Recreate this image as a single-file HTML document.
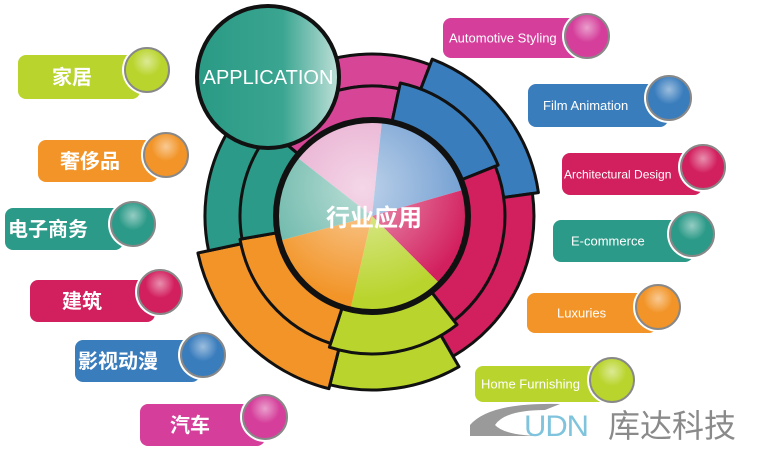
<!DOCTYPE html>
<html><head><meta charset="utf-8"><style>
html,body{margin:0;padding:0;background:#fff;width:772px;height:451px;overflow:hidden}
svg{display:block}
.cn{font-family:"Liberation Sans","Noto Sans CJK SC",sans-serif;font-weight:bold;fill:#fff}
.en{font-family:"Liberation Sans",sans-serif;fill:#fff}
</style></head><body>
<svg id="s" width="772" height="451" viewBox="0 0 772 451" xmlns="http://www.w3.org/2000/svg">
<defs>
<radialGradient id="gl" cx="50%" cy="30%" r="70%"><stop offset="0" stop-color="#fff" stop-opacity=".5"/><stop offset=".5" stop-color="#fff" stop-opacity="0"/></radialGradient>
<radialGradient id="ctr" cx="45%" cy="35%" r="60%"><stop offset="0" stop-color="#fff" stop-opacity=".55"/><stop offset="1" stop-color="#fff" stop-opacity="0"/></radialGradient>
<linearGradient id="app" x1="0" y1="0" x2="1" y2="0"><stop offset="0" stop-color="#2a9a85"/><stop offset=".6" stop-color="#3aa591"/><stop offset="1" stop-color="#bfe0d8"/></linearGradient>
</defs>
<g id="wheel"></g>
<circle cx="268" cy="77" r="71" fill="url(#app)" stroke="#111" stroke-width="4"/>
<text x="268" y="84" text-anchor="middle" class="en" font-size="20">APPLICATION</text>
<text x="374" y="226" text-anchor="middle" class="cn" font-size="24">行业应用</text>
<g id="labels"></g>
<path d="M470 425 Q490 402 560 404 L545 410 Q505 410 495 425 Q505 436 545 436 L470 436 Z" fill="#9a9a9a"/>
<text x="524" y="436" font-family="Liberation Sans,sans-serif" font-size="30" fill="#7fc4dc" letter-spacing="-1" textLength="64" lengthAdjust="spacingAndGlyphs">UDN</text>
<text x="608" y="437" font-family="Liberation Sans,Noto Sans CJK SC,sans-serif" font-size="32" fill="#8a8a8a">库达科技</text>
</svg>
<script>
var cx=372,cy=216,NS="http://www.w3.org/2000/svg";
function P(r,a){a=a*Math.PI/180;return (cx+r*Math.cos(a)).toFixed(1)+" "+(cy+r*Math.sin(a)).toFixed(1);}
function wedge(r0,r1,a0,a1,col){var large=(a1-a0)>180?1:0;var d;
 if(r0==0)d="M"+cx+" "+cy+" L"+P(r1,a0)+" A"+r1+" "+r1+" 0 "+large+" 1 "+P(r1,a1)+" Z";
 else d="M"+P(r0,a0)+" L"+P(r1,a0)+" A"+r1+" "+r1+" 0 "+large+" 1 "+P(r1,a1)+" L"+P(r0,a1)+" A"+r0+" "+r0+" 0 "+large+" 0 "+P(r0,a0)+" Z";
 var p=document.createElementNS(NS,"path");p.setAttribute("d",d);p.setAttribute("fill",col);p.setAttribute("stroke","#111");p.setAttribute("stroke-width",r0==0?0:3);p.setAttribute("stroke-linejoin","round");document.getElementById("wheel").appendChild(p);}
var PK="#d64596",BL="#3a7dbd",CR="#d21f5d",GR="#b9d42c",OR="#f29427",TL="#2c9a88";
wedge(130,162,-115,-69,PK);wedge(130,168,-69,-8,BL);wedge(130,162,-8,60,CR);wedge(130,174,60,104,GR);wedge(130,178,104,168,OR);wedge(130,167,168,245,TL);
wedge(96,130,-140,-78,PK);wedge(96,136,-78,-22,BL);wedge(96,133,-22,52,CR);wedge(96,138,52,108,GR);wedge(96,134,108,170,OR);wedge(96,132,170,220,TL);
wedge(0,96,-142,-84,"#e6a5cb");wedge(0,96,-84,-16,"#6d9bd0");wedge(0,96,-16,45,CR);wedge(0,96,45,103,GR);wedge(0,96,103,165,OR);wedge(0,96,165,218,"#66b5a6");
var w=document.getElementById("wheel");
var c=document.createElementNS(NS,"circle");c.setAttribute("cx",cx);c.setAttribute("cy",cy);c.setAttribute("r",94);c.setAttribute("fill","url(#ctr)");w.appendChild(c);
c=document.createElementNS(NS,"circle");c.setAttribute("cx",cx);c.setAttribute("cy",cy);c.setAttribute("r",96);c.setAttribute("fill","none");c.setAttribute("stroke","#111");c.setAttribute("stroke-width",6);w.appendChild(c);
var L=document.getElementById("labels");
function lab(x,y,w,h,col,bx,by,txt,cls,fs,tx){
 L.insertAdjacentHTML("beforeend",
 '<rect x="'+x+'" y="'+y+'" width="'+w+'" height="'+h+'" rx="8" fill="'+col+'"/>'+
 '<circle cx="'+bx+'" cy="'+by+'" r="25" fill="#fff"/>'+
 '<circle cx="'+bx+'" cy="'+by+'" r="22" fill="'+col+'" stroke="#888" stroke-width="2"/>'+
 '<circle cx="'+bx+'" cy="'+by+'" r="21" fill="url(#gl)"/>'+
 '<text x="'+tx+'" y="'+(y+h/2+fs*0.36)+'" class="'+cls+'" font-size="'+fs+'">'+txt+'</text>');}
lab(18,55,122,44,GR,147,70,"家居","cn",20,52);
lab(38,140,120,42,OR,166,155,"奢侈品","cn",20,60);
lab(5,208,118,42,TL,133,224,"电子商务","cn",20,8);
lab(30,280,125,42,CR,160,292,"建筑","cn",20,62);
lab(75,340,125,42,BL,203,355,"影视动漫","cn",20,78);
lab(140,404,125,42,"#d53f9b",265,417,"汽车","cn",20,170);
lab(443,18,140,40,"#d53f9b",587,36,"Automotive Styling","en",13,449);
lab(528,84,140,43,BL,669,98,"Film Animation","en",13,543);
lab(562,153,140,42,CR,703,167,"Architectural Design","en",12,564);
lab(553,220,140,42,TL,692,234,"E-commerce","en",13,571);
lab(527,293,130,40,OR,658,307,"Luxuries","en",13,557);
lab(475,366,135,36,GR,612,380,"Home Furnishing","en",13,481);
</script>
</body></html>
